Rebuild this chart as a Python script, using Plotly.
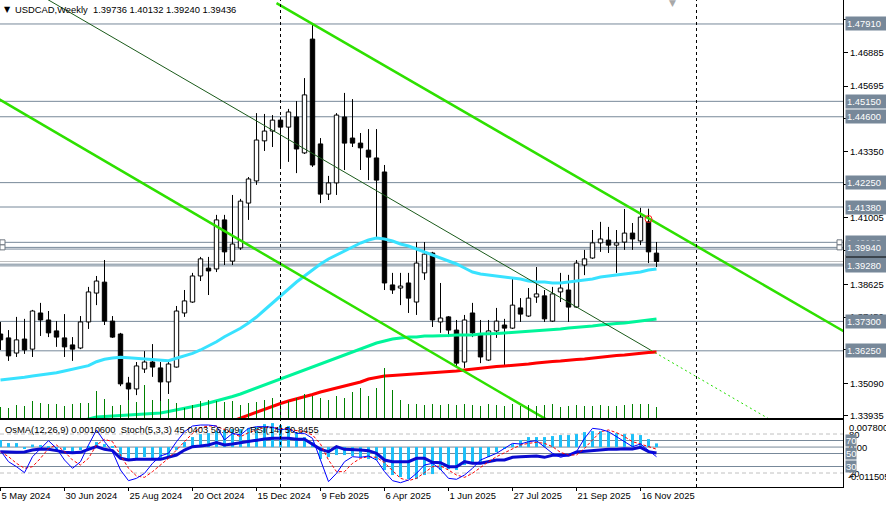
import plotly.graph_objects as go

# ---------------- data ----------------
time_labels = ["5 May 2024", "30 Jun 2024", "25 Aug 2024", "20 Oct 2024", "15 Dec 2024",
               "9 Feb 2025", "6 Apr 2025", "1 Jun 2025", "27 Jul 2025", "21 Sep 2025", "16 Nov 2025"]
time_label_idx = [0, 8, 16, 24, 32, 40, 48, 56, 64, 72, 80]
year_separators = [35, 87]

opens = [1.3685, 1.3671, 1.3617, 1.3667, 1.3631, 1.3760, 1.3735, 1.3696, 1.3671, 1.3646,
         1.3635, 1.3728, 1.3831, 1.3870, 1.3731, 1.3685, 1.3510, 1.3489, 1.3560, 1.3585,
         1.3564, 1.3514, 1.3567, 1.3760, 1.3799, 1.3892, 1.3920, 1.3917, 1.4092, 1.3945,
         1.3992, 1.4152, 1.4231, 1.4374, 1.4409, 1.4448, 1.4423, 1.4459, 1.4331, 1.4737,
         1.4363, 1.4184, 1.4224, 1.4459, 1.4384, 1.4366, 1.4341, 1.4313, 1.4263, 1.3860,
         1.3849, 1.3867, 1.3799, 1.3903, 1.3974, 1.3728, 1.3746, 1.3699, 1.3585, 1.3760,
         1.3681, 1.3592, 1.3696, 1.3717, 1.3706, 1.3778, 1.3749, 1.3817, 1.3821, 1.3731,
         1.3835, 1.3842, 1.3781, 1.3931, 1.3956, 1.4010, 1.4020, 1.4002, 1.4013, 1.4045,
         1.4017, 1.4085, 1.39736]
highs = [1.3728, 1.3699, 1.3746, 1.3739, 1.3771, 1.3796, 1.3767, 1.3731, 1.3756, 1.3674,
         1.3749, 1.3853, 1.3892, 1.3949, 1.3749, 1.3689, 1.3532, 1.3585, 1.3624, 1.3649,
         1.3585, 1.3585, 1.3785, 1.3842, 1.3903, 1.3960, 1.3960, 1.4110, 1.4110, 1.4181,
         1.4167, 1.4245, 1.4473, 1.4470, 1.4466, 1.4459, 1.4488, 1.4516, 1.4598, 1.4791,
         1.4384, 1.4249, 1.4473, 1.4545, 1.4523, 1.4402, 1.4416, 1.4416, 1.4288, 1.3903,
         1.3903, 1.3903, 1.4013, 1.4013, 1.3978, 1.3867, 1.3749, 1.3735, 1.3753, 1.3796,
         1.3735, 1.3735, 1.3778, 1.3739, 1.3888, 1.3813, 1.3849, 1.3924, 1.3842, 1.3853,
         1.3903, 1.3896, 1.3949, 1.3985, 1.4056, 1.4085, 1.4067, 1.4056, 1.4131, 1.4081,
         1.4135, 1.4132, 1.40132]
lows = [1.3628, 1.3589, 1.3603, 1.3614, 1.3603, 1.3678, 1.3674, 1.3639, 1.3603, 1.3589,
        1.3631, 1.3703, 1.3788, 1.3717, 1.3671, 1.3499, 1.3439, 1.3467, 1.3546, 1.3532,
        1.3414, 1.3471, 1.3565, 1.3746, 1.3796, 1.3874, 1.3824, 1.3906, 1.3931, 1.3931,
        1.3985, 1.4092, 1.4217, 1.4338, 1.4352, 1.4281, 1.4299, 1.4259, 1.4327, 1.4281,
        1.4152, 1.4163, 1.4181, 1.4270, 1.4352, 1.4270, 1.4234, 1.4027, 1.3842, 1.3828,
        1.3788, 1.3760, 1.3753, 1.3878, 1.3710, 1.3689, 1.3674, 1.3564, 1.3564, 1.3674,
        1.3581, 1.3589, 1.3671, 1.3574, 1.3703, 1.3728, 1.3746, 1.3796, 1.3728, 1.3728,
        1.3799, 1.3728, 1.3778, 1.3895, 1.3953, 1.3978, 1.3974, 1.3903, 1.3985, 1.3985,
        1.4002, 1.3938, 1.39240]
closes = [1.3664, 1.3607, 1.3664, 1.3628, 1.3767, 1.3735, 1.3689, 1.3674, 1.3639, 1.3631,
          1.3728, 1.3835, 1.3874, 1.3731, 1.3674, 1.3507, 1.3489, 1.3571, 1.3585, 1.3567,
          1.3514, 1.3578, 1.3767, 1.3803, 1.3892, 1.3953, 1.3910, 1.4092, 1.3978, 1.4006,
          1.4159, 1.4238, 1.4377, 1.4409, 1.4448, 1.4423, 1.4477, 1.4345, 1.4538, 1.4288,
          1.4184, 1.4224, 1.4466, 1.4366, 1.4366, 1.4349, 1.4316, 1.4234, 1.3867, 1.3842,
          1.3856, 1.3813, 1.3938, 1.3970, 1.3735, 1.3742, 1.3699, 1.3581, 1.3735, 1.3689,
          1.3603, 1.3696, 1.3731, 1.3706, 1.3788, 1.3756, 1.3813, 1.3828, 1.3739, 1.3828,
          1.3849, 1.3781, 1.3938, 1.3953, 1.4010, 1.4024, 1.4002, 1.4010, 1.4045, 1.4024,
          1.4102, 1.3978, 1.39436]

volumes = [11, 10, 13, 12, 17, 15, 14, 14, 12, 14, 15, 15, 27, 19, 12, 13, 18, 16, 33, 18,
           17, 19, 15, 10, 13, 17, 18, 17, 16, 17, 13, 15, 16, 18, 20, 14, 17, 20, 24, 22,
           20, 18, 22, 20, 26, 30, 22, 30, 50, 28, 18, 14, 14, 13, 14, 13, 14, 13, 14, 13,
           12, 14, 13, 12, 14, 12, 13, 12, 13, 14, 11, 12, 13, 12, 12, 13, 12, 12, 13, 14,
           14, 14, 11]

ma_cyan = [1.35209, 1.35234, 1.35270, 1.35305, 1.35352, 1.35387, 1.35423, 1.35469, 1.35530, 1.35590,
           1.35648, 1.35719, 1.35862, 1.35947, 1.35994, 1.36019, 1.36004, 1.35983, 1.35958, 1.35947,
           1.35922, 1.35897, 1.35983, 1.36065, 1.36161, 1.36279, 1.36422, 1.36575, 1.36754, 1.36896,
           1.37053, 1.37242, 1.37456, 1.37706, 1.37956, 1.38206, 1.38455, 1.38705, 1.38919, 1.39133,
           1.39347, 1.39525, 1.39668, 1.39811, 1.39953, 1.40096, 1.40203, 1.40274, 1.40239, 1.40167,
           1.40060, 1.39989, 1.39882, 1.39775, 1.39668, 1.39561, 1.39454, 1.39347, 1.39204, 1.39062,
           1.38990, 1.38955, 1.38919, 1.38883, 1.38848, 1.38812, 1.38741, 1.38705, 1.38705, 1.38669,
           1.38669, 1.38705, 1.38741, 1.38776, 1.38812, 1.38883, 1.38919, 1.38955, 1.38990, 1.39026,
           1.39062, 1.39133, 1.39169]
ma_spring = [None] * 10 + [
           1.33746, 1.33818, 1.33889, 1.33907, 1.33925, 1.33943, 1.33961, 1.33978, 1.33996, 1.34014,
           1.34032, 1.34085, 1.34138, 1.34192, 1.34245, 1.34317, 1.34388, 1.34459, 1.34531, 1.34620,
           1.34709, 1.34816, 1.34923, 1.35030, 1.35138, 1.35245, 1.35352, 1.35459, 1.35565, 1.35672,
           1.35779, 1.35886, 1.35994, 1.36101, 1.36208, 1.36315, 1.36422, 1.36529, 1.36600, 1.36671,
           1.36707, 1.36743, 1.36743, 1.36779, 1.36779, 1.36779, 1.36796, 1.36814, 1.36814, 1.36814,
           1.36850, 1.36850, 1.36868, 1.36886, 1.36903, 1.36921, 1.36939, 1.36957, 1.36992, 1.37010,
           1.37028, 1.37064, 1.37082, 1.37099, 1.37135, 1.37171, 1.37207, 1.37225, 1.37242, 1.37278,
           1.37314, 1.37349, 1.37385]
ma_red = [None] * 29 + [
           1.33746, 1.33853, 1.33961, 1.34067, 1.34174, 1.34281, 1.34370, 1.34460, 1.34531, 1.34602,
           1.34692, 1.34781, 1.34852, 1.34923, 1.34995, 1.35066, 1.35138, 1.35245, 1.35298, 1.35352,
           1.35370, 1.35387, 1.35405, 1.35423, 1.35441, 1.35459, 1.35477, 1.35494, 1.35530, 1.35565,
           1.35601, 1.35637, 1.35673, 1.35690, 1.35708, 1.35726, 1.35744, 1.35780, 1.35815, 1.35851,
           1.35869, 1.35887, 1.35922, 1.35940, 1.35958, 1.35994, 1.36030, 1.36065, 1.36083, 1.36101,
           1.36137, 1.36172, 1.36190, 1.36208]

# trend lines (bar index, price)
trend_upper_x = [34.5, 106.0]
trend_upper_y = [1.48653, 1.36848]
trend_lower_x = [-1.0, 70.0]
trend_lower_y = [1.45365, 1.33508]
trend_thin_x = [5.0, 81.25]
trend_thin_y = [1.48931, 1.36279]
trend_thin_ext_x = [81.25, 96.25]
trend_thin_ext_y = [1.36279, 1.33790]
alert_x = [81]
alert_y = [1.40952]

level_prices = [1.47910, 1.45150, 1.44600, 1.42250, 1.41380, 1.40120, 1.39880, 1.39940,
                1.39340, 1.39280, 1.37300, 1.36250]
selected_levels = [1.40120, 1.39940]
bid_price = 1.39436
price_ticks = [1.48075, 1.46885, 1.45695, 1.44520, 1.43350, 1.42180, 1.41005, 1.39815,
               1.38625, 1.37450, 1.36280, 1.35090, 1.33935]

osma = [0.00202, 0.00115, 0.00115, -0.00029, 0.00072, 0.00058, 0.00029, -0.00086, -0.00086, -0.00144,
        -0.00086, 0.00029, 0.00144, 0.00086, 0.00029, -0.00288, -0.00346, -0.00317, -0.00288, -0.00317,
        -0.00346, -0.00259, -0.00086, 0.00144, 0.00288, 0.00374, 0.00403, 0.00461, 0.00490, 0.00518,
        0.00518, 0.00547, 0.00576, 0.00662, 0.00691, 0.00634, 0.00605, 0.00432, 0.00288, 0.00144,
        -0.00346, -0.00288, -0.00230, -0.00230, -0.00259, -0.00288, -0.00346, -0.00374, -0.00662, -0.00806,
        -0.00864, -0.00922, -0.00922, -0.00806, -0.00778, -0.00662, -0.00634, -0.00662, -0.00518, -0.00432,
        -0.00432, -0.00288, -0.00144, -0.00029, 0.00086, 0.00202, 0.00288, 0.00288, 0.00288, 0.00317,
        0.00346, 0.00346, 0.00374, 0.00432, 0.00461, 0.00461, 0.00432, 0.00403, 0.00374, 0.00374,
        0.00346, 0.00230, 0.00106]
stoch_main = [54.4, 37.4, 29.7, 20.5, 45.1, 57.9, 69.7, 57.9, 40.0, 27.2,
              37.4, 63.1, 86.2, 68.2, 52.8, 24.6, 8.2, 11.8, 19.5, 34.9,
              46.2, 50.3, 68.2, 83.6, 92.3, 93.8, 93.8, 92.3, 70.8, 81.0,
              78.5, 88.7, 91.3, 91.3, 90.3, 86.2, 88.7, 81.0, 81.0, 73.3,
              40.0, 6.7, 19.5, 37.4, 45.1, 44.1, 46.2, 40.0, 22.1, 8.2,
              5.1, 9.2, 19.5, 32.3, 34.9, 25.6, 11.8, 10.3, 16.9, 27.2,
              40.0, 45.1, 50.3, 57.9, 65.6, 64.6, 68.2, 69.7, 60.5, 50.3,
              44.1, 47.7, 52.8, 73.3, 88.7, 87.2, 83.6, 75.9, 68.2, 60.5,
              64.6, 55.4, 45.0403]
stoch_signal = [52.8, 45.1, 34.9, 27.2, 29.7, 42.6, 57.9, 63.1, 52.8, 40.0,
                32.3, 42.6, 63.1, 71.8, 68.2, 47.7, 27.2, 15.4, 13.3, 22.1,
                32.3, 42.6, 55.4, 68.2, 81.0, 89.7, 92.3, 92.3, 86.2, 81.0,
                75.9, 82.1, 86.2, 90.3, 90.3, 88.7, 87.2, 85.1, 83.6, 78.5,
                64.6, 40.0, 22.1, 22.1, 34.9, 42.6, 45.1, 44.1, 35.9, 23.6,
                11.8, 8.2, 11.8, 20.5, 29.7, 30.8, 24.6, 16.9, 13.3, 19.5,
                28.7, 37.4, 45.1, 51.3, 57.9, 63.1, 65.6, 67.2, 65.6, 60.5,
                51.8, 47.7, 47.7, 57.9, 70.8, 83.6, 86.2, 82.1, 75.9, 68.2,
                64.6, 60.5, 56.6097]
rsi = [52.8, 51.8, 51.8, 52.3, 55.4, 56.9, 56.4, 54.4, 51.8, 51.3,
       51.8, 56.4, 60.5, 56.4, 54.4, 42.6, 40.0, 41.0, 41.5, 41.0,
       41.0, 44.1, 47.7, 55.4, 60.5, 61.5, 63.1, 66.7, 63.1, 64.6,
       66.7, 67.7, 70.8, 72.3, 73.3, 73.3, 73.3, 71.8, 71.8, 64.1,
       56.4, 52.8, 60.5, 56.4, 56.4, 55.4, 54.4, 50.3, 40.0, 37.4,
       37.4, 37.4, 42.6, 42.6, 36.4, 35.9, 29.7, 29.7, 37.4, 34.9,
       34.9, 37.4, 40.0, 40.0, 44.1, 45.1, 46.2, 46.2, 44.1, 47.2,
       47.7, 47.2, 52.3, 53.3, 55.4, 56.4, 56.4, 56.4, 57.4, 56.9,
       59.5, 52.8, 50.8455]
osc_solid_levels = [70, 50, 30]
osc_dashed_levels = [80, 20]
osma_range = [-0.011505, 0.0078]

# ---------------- figure ----------------
W, H = 886, 506
PLOT_W = 843
PAPER_H = 487
MAIN_BOTTOM = 418
IND_TOP = 420
FONT = "Liberation Sans, Arial, sans-serif"
FS = 9.4
LEVEL_COLOR = "#778899"

n = len(opens)
idx = list(range(n))

fig = go.Figure()

# wicks (split so they never cross the bodies)
wx, wy = [], []
for i, (o, h, l, c) in enumerate(zip(opens, highs, lows, closes)):
    top, bot = max(o, c), min(o, c)
    wx += [i, i, None, i, i, None]
    wy += [h, top, None, bot, l, None]
fig.add_trace(go.Scatter(x=wx, y=wy, mode="lines", line=dict(color="black", width=1),
                         hoverinfo="skip", xaxis="x", yaxis="y"))
# bodies
body_base = [min(o, c) for o, c in zip(opens, closes)]
body_h = [max(abs(c - o), 0.00003) for o, c in zip(opens, closes)]
body_col = ["white" if c >= o else "black" for o, c in zip(opens, closes)]
fig.add_trace(go.Bar(x=idx, y=body_h, base=body_base, width=0.55,
                     marker=dict(color=body_col, line=dict(color="black", width=1)),
                     hoverinfo="skip", xaxis="x", yaxis="y"))

# moving averages
fig.add_trace(go.Scatter(x=idx, y=ma_spring, mode="lines", line=dict(color="#00f59a", width=3),
                         hoverinfo="skip", xaxis="x", yaxis="y"))
fig.add_trace(go.Scatter(x=idx, y=ma_red, mode="lines", line=dict(color="#ff0000", width=3),
                         hoverinfo="skip", xaxis="x", yaxis="y"))
fig.add_trace(go.Scatter(x=idx, y=ma_cyan, mode="lines", line=dict(color="#38e2ff", width=3),
                         hoverinfo="skip", xaxis="x", yaxis="y"))

# trend lines
fig.add_trace(go.Scatter(x=trend_thin_x, y=trend_thin_y, mode="lines",
                         line=dict(color="#1a5a1a", width=1), hoverinfo="skip", xaxis="x", yaxis="y"))
fig.add_trace(go.Scatter(x=trend_thin_ext_x, y=trend_thin_ext_y, mode="lines",
                         line=dict(color="#22dd00", width=1, dash="2px,3px"), hoverinfo="skip",
                         xaxis="x", yaxis="y"))
fig.add_trace(go.Scatter(x=trend_upper_x, y=trend_upper_y, mode="lines",
                         line=dict(color="#2ee000", width=2.5), hoverinfo="skip", xaxis="x", yaxis="y"))
fig.add_trace(go.Scatter(x=trend_lower_x, y=trend_lower_y, mode="lines",
                         line=dict(color="#2ee000", width=2.5), hoverinfo="skip", xaxis="x", yaxis="y"))
fig.add_trace(go.Scatter(x=alert_x, y=alert_y, mode="markers",
                         marker=dict(symbol="circle-open", size=7, color="#ff2020", line=dict(width=1)),
                         hoverinfo="skip", xaxis="x", yaxis="y"))

# volumes (overlay axis)
vx, vy = [], []
for i, v in enumerate(volumes):
    vx += [i, i, None]
    vy += [0, v, None]
fig.add_trace(go.Scatter(x=vx, y=vy, mode="lines", line=dict(color="#008000", width=1),
                         hoverinfo="skip", xaxis="x", yaxis="y3"))

# indicator pane
fig.add_trace(go.Bar(x=idx, y=osma, width=0.375, marker=dict(color="#1ec0f8", line=dict(width=0)),
                     hoverinfo="skip", xaxis="x2", yaxis="y2"))
fig.add_trace(go.Scatter(x=idx, y=rsi, mode="lines", line=dict(color="#0a0ad0", width=3),
                         hoverinfo="skip", xaxis="x2", yaxis="y4"))
fig.add_trace(go.Scatter(x=idx, y=stoch_signal, mode="lines",
                         line=dict(color="#ff0000", width=1, dash="3px,2px"),
                         hoverinfo="skip", xaxis="x2", yaxis="y4"))
fig.add_trace(go.Scatter(x=idx, y=stoch_main, mode="lines", line=dict(color="#0000ff", width=1),
                         hoverinfo="skip", xaxis="x2", yaxis="y4"))

# ---------------- layout ----------------
x_range = [-0.0625, -0.0625 + PLOT_W / 8.0]
main_range = [1.48765 - MAIN_BOTTOM * 0.00035674, 1.48765]
osc_px = 0.65
osc_range = [-1.0 / osc_px, 100 + 1.0 / osc_px]

shapes = []
for p in level_prices:
    shapes.append(dict(type="line", xref="paper", x0=0, x1=1, yref="y", y0=p, y1=p,
                       line=dict(color=LEVEL_COLOR, width=1), layer="below"))
shapes.append(dict(type="line", xref="paper", x0=0, x1=1, yref="y", y0=bid_price, y1=bid_price,
                   line=dict(color="#c0c0c0", width=1), layer="below"))
# selection handles of the selected horizontal lines
for p in selected_levels:
    for ax_x, x0, x1 in ((0, 0, 5), (1, -6, -1)):
        shapes.append(dict(type="rect", xref="paper", xsizemode="pixel", xanchor=ax_x, x0=x0, x1=x1,
                           yref="y", ysizemode="pixel", yanchor=p, y0=-2.5, y1=2.5,
                           line=dict(color="#707880", width=1), fillcolor="white", layer="above"))
for lv in osc_solid_levels:
    shapes.append(dict(type="line", xref="paper", x0=0, x1=1, yref="y4", y0=lv, y1=lv,
                       line=dict(color=LEVEL_COLOR, width=1), layer="below"))
for lv in osc_dashed_levels:
    shapes.append(dict(type="line", xref="paper", x0=0, x1=1, yref="y4", y0=lv, y1=lv,
                       line=dict(color="#c0c0c0", width=1, dash="4px,3px"), layer="below"))
shapes.append(dict(type="line", xref="paper", x0=0, x1=1, yref="y2", y0=0, y1=0,
                   line=dict(color=LEVEL_COLOR, width=1), layer="below"))
for s in year_separators:
    shapes.append(dict(type="line", xref="x", x0=s, x1=s, yref="paper", y0=0, y1=1,
                       line=dict(color="black", width=1, dash="3px,3px"), layer="above"))


def py(Y):
    return (PAPER_H - Y) / PAPER_H


ann = []
# header
ann.append(dict(xref="paper", yref="paper", x=0, y=py(10), xshift=2, xanchor="left", yanchor="middle",
                text="▼", showarrow=False, font=dict(family="DejaVu Sans", size=8, color="black")))
ann.append(dict(xref="paper", yref="paper", x=0, y=py(10), xshift=13, xanchor="left", yanchor="middle",
                text="USDCAD,Weekly  %.5f %.5f %.5f %.5f" % (opens[-1], highs[-1], lows[-1], closes[-1]),
                showarrow=False, font=dict(family=FONT, size=FS, color="black")))
ann.append(dict(xref="paper", yref="paper", x=672 / PLOT_W, y=py(3), xanchor="center", yanchor="middle",
                text="▼", showarrow=False, font=dict(family="DejaVu Sans", size=9, color="#a8a8a8")))
# indicator caption
ann.append(dict(xref="paper", yref="paper", x=0, y=py(429), xshift=3, xanchor="left", yanchor="middle",
                text="OsMA(12,26,9) %.7f  Stoch(5,3,3) %.4f %.4f  RSI(14) %.4f"
                     % (osma[-1], stoch_main[-1], stoch_signal[-1], rsi[-1]),
                showarrow=False, font=dict(family=FONT, size=FS, color="black")))
# bid label, then level labels (hidden ones first)
ann.append(dict(xref="paper", yref="y", x=1, y=bid_price, xshift=2, xanchor="left", yanchor="middle",
                text="%.5f" % bid_price, showarrow=False, bgcolor="black", borderpad=1,
                width=40, align="left", font=dict(family=FONT, size=FS, color="white")))
for p in level_prices:
    ann.append(dict(xref="paper", yref="y", x=1, y=p, xshift=2, xanchor="left", yanchor="middle",
                    text="%.5f" % p, showarrow=False, bgcolor=LEVEL_COLOR, borderpad=1,
                    width=40, align="left", font=dict(family=FONT, size=FS, color="white")))
# indicator scale labels
ann.append(dict(xref="paper", yref="paper", x=1, y=py(427), xshift=4, xanchor="left", yanchor="middle",
                text="%.6f" % osma_range[1], showarrow=False, font=dict(family=FONT, size=FS, color="black")))
ann.append(dict(xref="paper", yref="paper", x=1, y=py(476), xshift=3, xanchor="left", yanchor="middle",
                text="%.6f" % osma_range[0], showarrow=False, font=dict(family=FONT, size=FS, color="black")))
for lv in osc_dashed_levels:
    ann.append(dict(xref="paper", yref="y4", x=1, y=lv, xshift=4, xanchor="left", yanchor="middle",
                    text=str(lv), showarrow=False, font=dict(family=FONT, size=FS, color="black")))
ann.append(dict(xref="paper", yref="y2", x=1, y=0, xshift=4, xanchor="left", yanchor="middle",
                text="0.00", showarrow=False, font=dict(family=FONT, size=FS, color="black")))
for lv in osc_solid_levels:
    ann.append(dict(xref="paper", yref="y4", x=1, y=lv, xshift=2, xanchor="left", yanchor="middle",
                    text=str(lv), showarrow=False, bgcolor=LEVEL_COLOR, borderpad=0,
                    font=dict(family=FONT, size=FS, color="white")))

fig.update_layout(
    width=W, height=H,
    margin=dict(l=0, r=W - PLOT_W, t=0, b=H - PAPER_H),
    paper_bgcolor="white", plot_bgcolor="white",
    showlegend=False, barmode="overlay", hovermode=False,
    font=dict(family=FONT, size=FS, color="black"),
    xaxis=dict(domain=[0, 1], range=x_range, anchor="y", showgrid=False, zeroline=False,
               showticklabels=False, ticks="", showline=True, linecolor="black", linewidth=1),
    yaxis=dict(domain=[1 - MAIN_BOTTOM / PAPER_H, 1], range=main_range, side="right", anchor="x",
               showgrid=False, zeroline=False, showline=True, linecolor="black", linewidth=1,
               tickmode="array", tickvals=price_ticks, ticktext=["%.5f" % t for t in price_ticks],
               ticks="outside", ticklen=4, tickcolor="black",
               tickfont=dict(family=FONT, size=FS, color="black")),
    yaxis3=dict(overlaying="y", range=[0, MAIN_BOTTOM], visible=False, side="right", anchor="x"),
    xaxis2=dict(domain=[0, 1], range=x_range, matches="x", anchor="y2", showgrid=False, zeroline=False,
                showline=True, mirror=True, linecolor="black", linewidth=1,
                tickmode="array", tickvals=time_label_idx, ticktext=time_labels,
                ticklabelposition="outside right",
                ticks="outside", ticklen=3, tickcolor="black",
                tickfont=dict(family=FONT, size=FS, color="black")),
    yaxis2=dict(domain=[0, (PAPER_H - IND_TOP) / PAPER_H], range=osma_range, side="right", anchor="x2",
                showgrid=False, zeroline=False, showline=True, linecolor="black", linewidth=1,
                showticklabels=False, ticks=""),
    yaxis4=dict(overlaying="y2", range=osc_range, visible=False, side="right", anchor="x2"),
    shapes=shapes,
    annotations=ann,
)

fig.write_html("out.html", config={"displayModeBar": False},
               post_script="document.body.style.margin='0px';document.body.style.padding='0px';")
